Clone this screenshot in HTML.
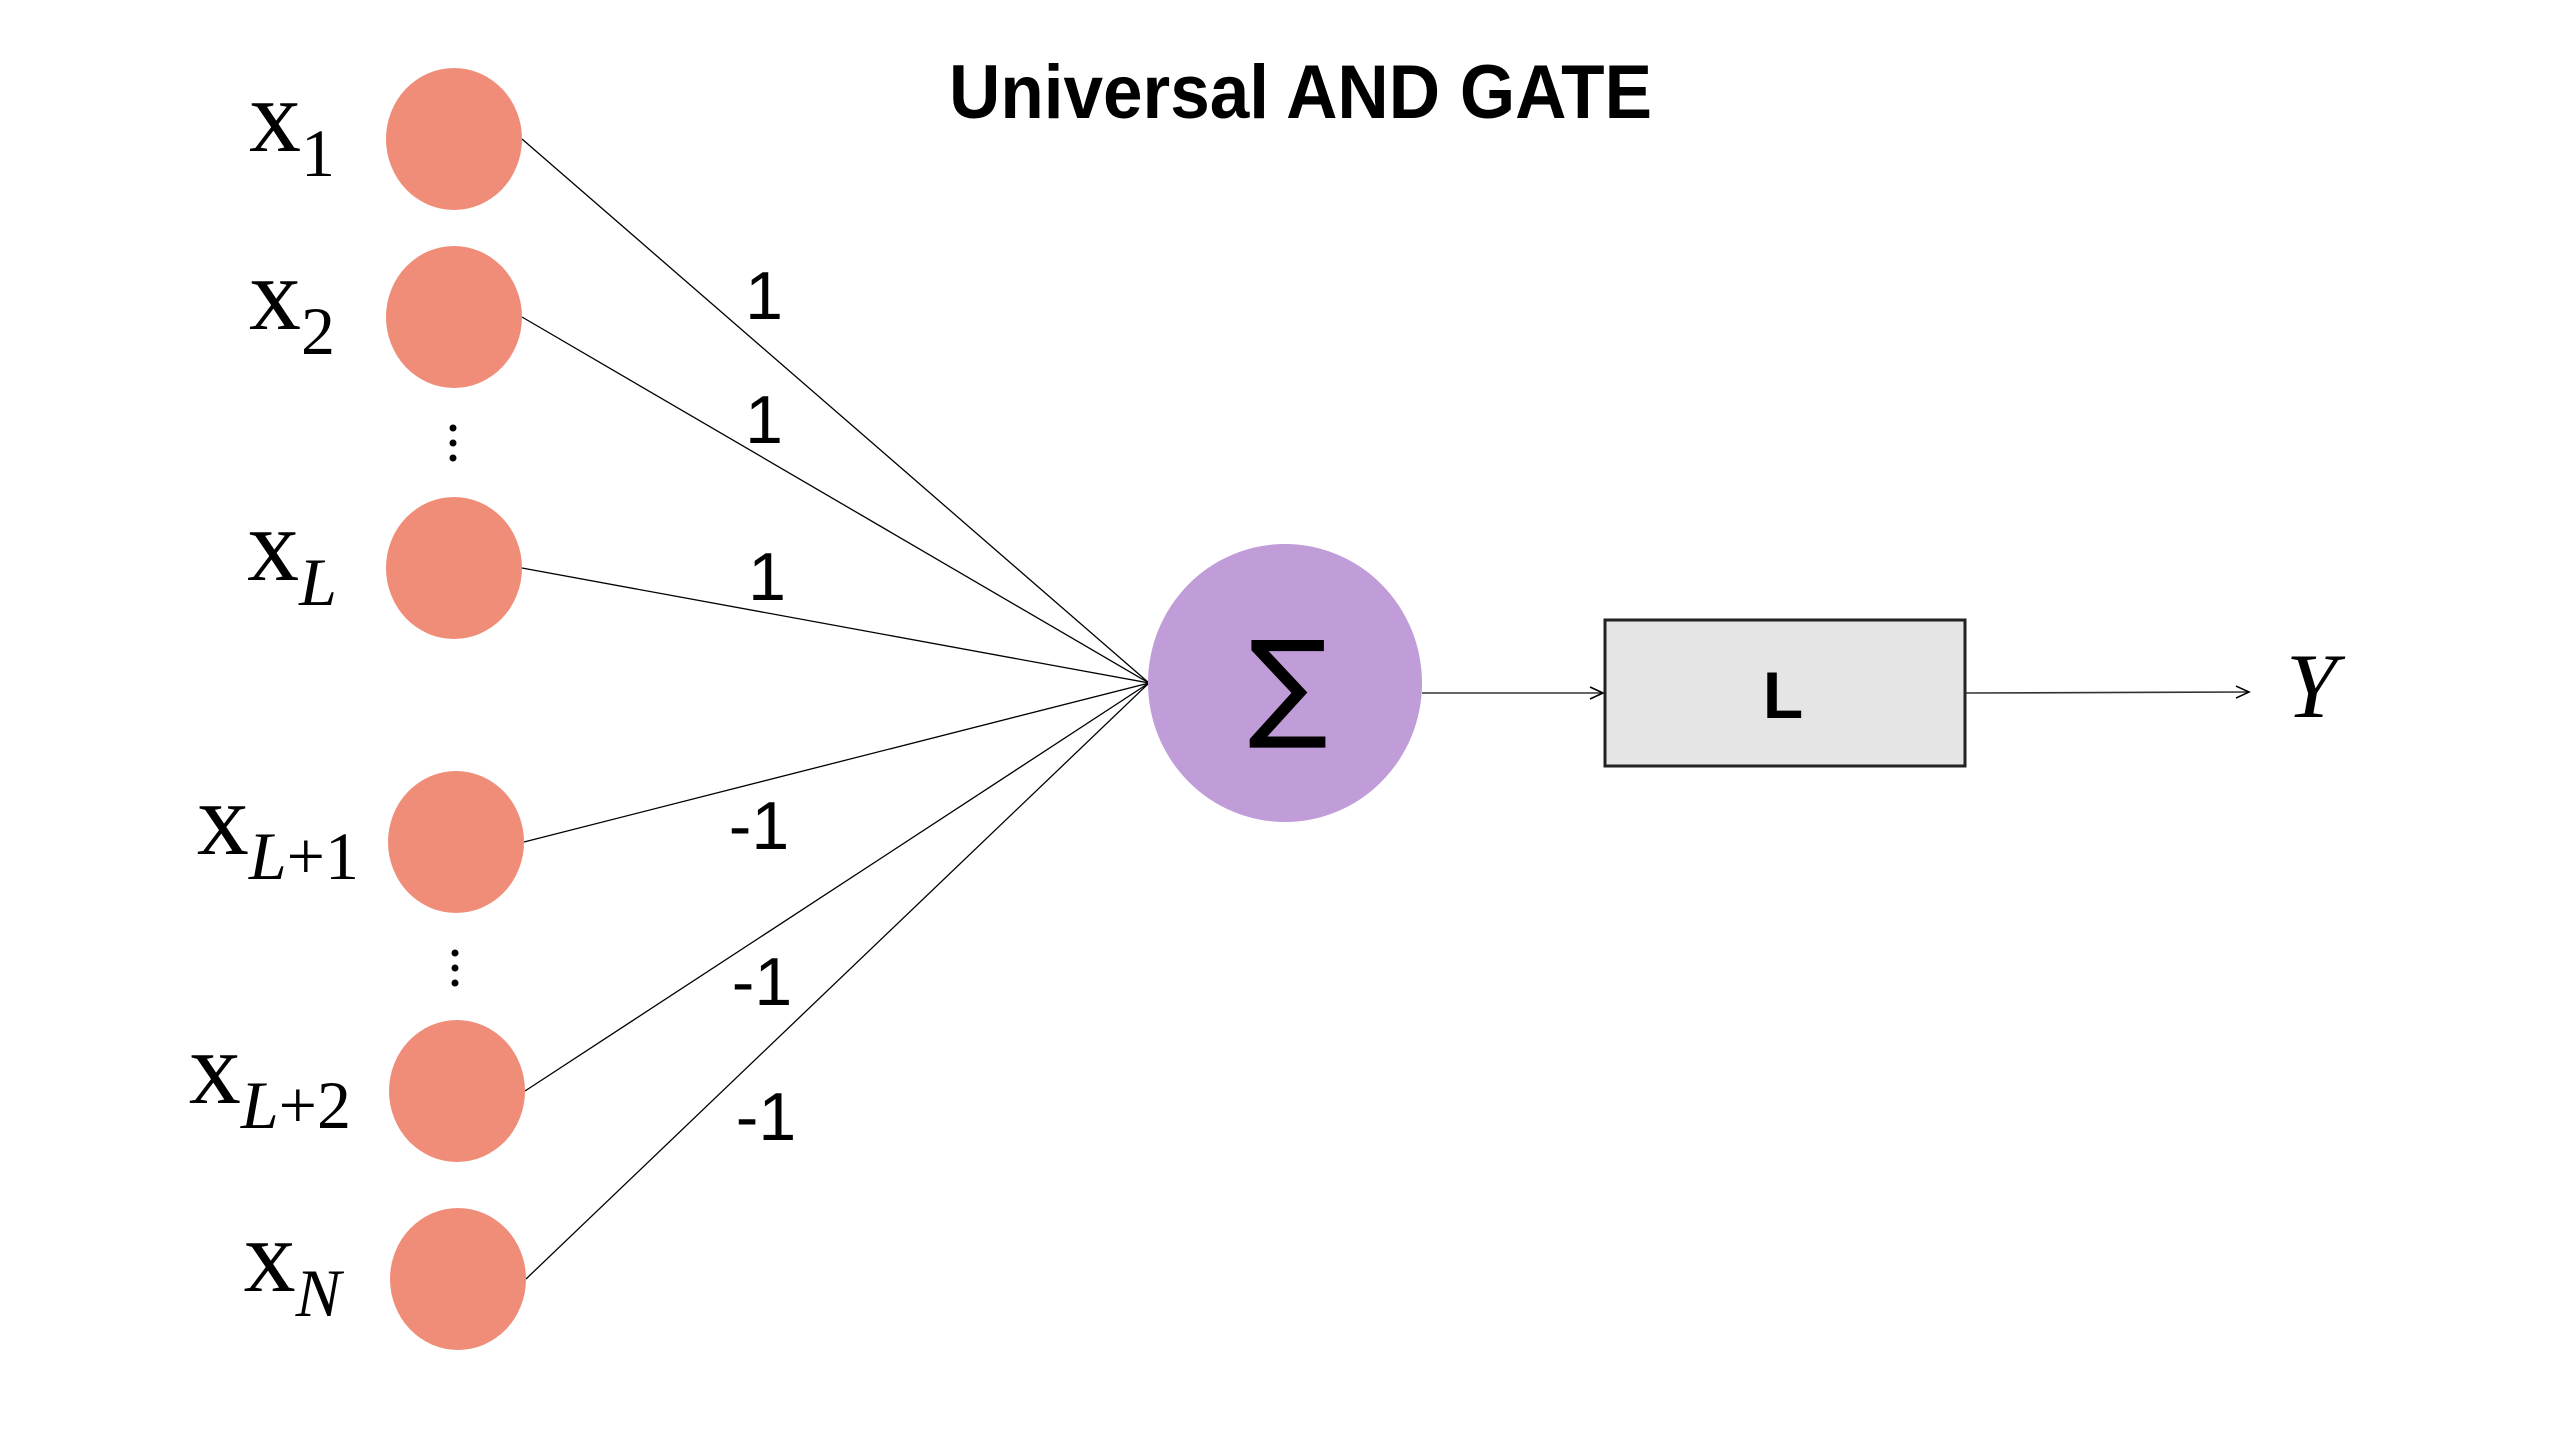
<!DOCTYPE html>
<html><head><meta charset="utf-8"><title>Universal AND GATE</title>
<style>
html,body{margin:0;padding:0;background:#fff;}
svg{display:block;}
</style></head>
<body>
<svg id="chart" width="2560" height="1440" viewBox="0 0 2560 1440" xmlns="http://www.w3.org/2000/svg">
<defs>
<marker id="arr" markerWidth="20" markerHeight="20" refX="14" refY="7" orient="auto" markerUnits="userSpaceOnUse">
<path d="M1,1 L14,7 L1,13" fill="none" stroke="#000" stroke-width="1.6"/>
</marker>
</defs>
<text x="949" y="118" textLength="703" lengthAdjust="spacingAndGlyphs" font-family="Liberation Sans, sans-serif" font-weight="bold" font-size="76" fill="#000">Universal AND GATE</text>
<g id="edges"></g>
<g id="nodes"></g>
<g id="labels"></g>
<g id="weights"></g>
<ellipse cx="1285" cy="683" rx="137" ry="139" fill="#c09cd8"/>
<text x="1288" y="725" text-anchor="middle" font-family="DejaVu Sans, sans-serif" font-size="118" fill="#000">∑</text>
<line x1="1422" y1="693" x2="1603" y2="693" stroke="#333" stroke-width="1.6" marker-end="url(#arr)"/>
<rect x="1605" y="620" width="360" height="146" fill="#e5e5e5" stroke="#222" stroke-width="3"/>
<text x="1783" y="718" text-anchor="middle" font-family="Liberation Sans, sans-serif" font-weight="bold" font-size="66" fill="#000">L</text>
<line x1="1966" y1="693" x2="2249" y2="692" stroke="#333" stroke-width="1.6" marker-end="url(#arr)"/>
<text x="2286" y="717" font-family="Liberation Serif, serif" font-style="italic" font-size="92" fill="#000">Y</text>
<g fill="#000">
<circle cx="453" cy="428" r="3.5"/><circle cx="453" cy="443" r="3.5"/><circle cx="453" cy="458" r="3.5"/>
</g>
<g fill="#000">
<circle cx="455" cy="953" r="3.5"/><circle cx="455" cy="968" r="3.5"/><circle cx="455" cy="983" r="3.5"/>
</g>
</svg>
<script>
const inputVars = ["", "", "L", "L", "L", "N"];
const inputSuffix = ["1", "2", "", "+1", "+2", ""];
const weights = [1, 1, 1, -1, -1, -1];
const nodeY = [139, 317, 568, 842, 1091, 1279];
const nodeX = [454, 454, 454, 456, 457, 458];
const labelRight = [335, 335, 337, 359, 351, 341];
const weightLabelPos = [[764, 294], [764, 418], [767, 575], [759, 824], [762, 980], [766, 1115]];

const NS = "http://www.w3.org/2000/svg";
const sumX = 1149, sumY = 683;
const edges = document.getElementById('edges');
const nodes = document.getElementById('nodes');
const labels = document.getElementById('labels');
const wg = document.getElementById('weights');

for (let i = 0; i < weights.length; i++) {
  const cx = nodeX[i], cy = nodeY[i];
  const ln = document.createElementNS(NS, 'line');
  
  
  ln.setAttribute('x1', cx + 68); ln.setAttribute('y1', cy);
  ln.setAttribute('x2', sumX); ln.setAttribute('y2', sumY);
  ln.setAttribute('stroke', '#000'); ln.setAttribute('stroke-width', '1.3');
  edges.appendChild(ln);

  const c = document.createElementNS(NS, 'ellipse');
  
  
  c.setAttribute('cx', cx); c.setAttribute('cy', cy);
  c.setAttribute('rx', 68); c.setAttribute('ry', 71);
  c.setAttribute('fill', '#f08d78');
  nodes.appendChild(c);

  const t = document.createElementNS(NS, 'text');
  
  
  t.setAttribute('x', labelRight[i]); t.setAttribute('y', cy + 12);
  t.setAttribute('text-anchor', 'end');
  t.setAttribute('font-family', 'Liberation Serif, serif');
  t.setAttribute('font-size', '104');
  t.setAttribute('fill', '#000');
  const base = document.createElementNS(NS, 'tspan');
  base.textContent = 'x';
  t.appendChild(base);
  if (inputVars[i]) {
    const v = document.createElementNS(NS, 'tspan');
    v.setAttribute('dy', '25');
    v.setAttribute('font-size', '68');
    v.setAttribute('font-style', 'italic');
    v.textContent = inputVars[i];
    t.appendChild(v);
  }
  if (inputSuffix[i]) {
    const s = document.createElementNS(NS, 'tspan');
    if (!inputVars[i]) s.setAttribute('dy', '25');
    s.setAttribute('font-size', '68');
    s.textContent = inputSuffix[i];
    t.appendChild(s);
  }
  labels.appendChild(t);

  const w = document.createElementNS(NS, 'text');
  
  
  w.setAttribute('x', weightLabelPos[i][0]); w.setAttribute('y', weightLabelPos[i][1] + 25);
  w.setAttribute('text-anchor', 'middle');
  w.setAttribute('font-family', 'Liberation Sans, sans-serif');
  w.setAttribute('font-size', '68');
  w.setAttribute('fill', '#000');
  w.textContent = String(weights[i]);
  wg.appendChild(w);
}
</script>
</body></html>
